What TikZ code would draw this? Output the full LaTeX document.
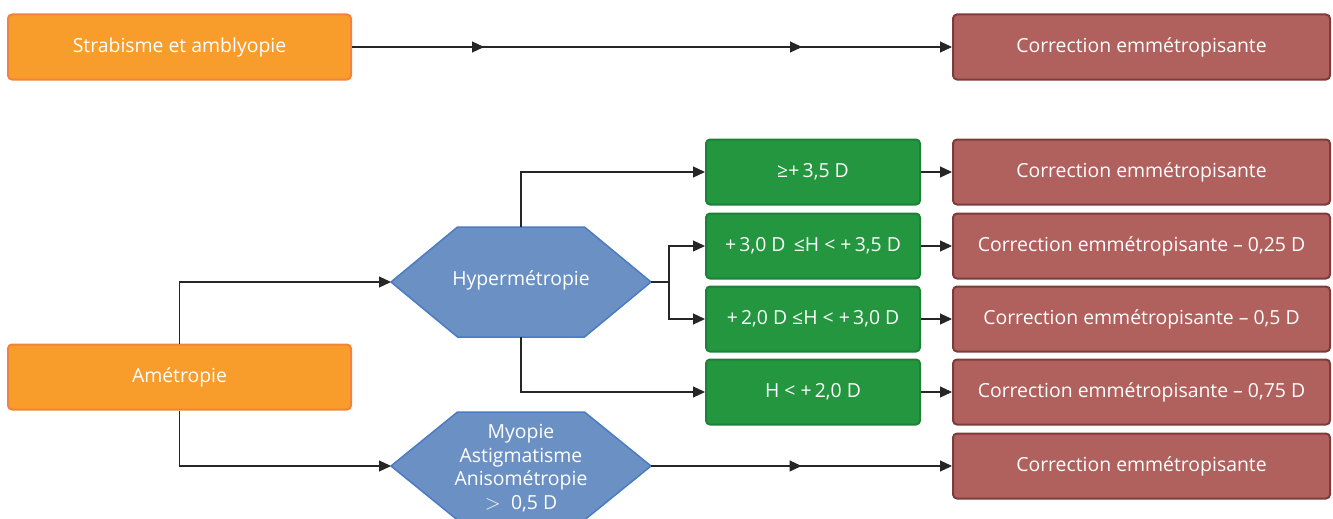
\documentclass[tikz,border=0pt]{standalone}
\usepackage{fontspec}
\setmainfont{Open Sans}
\usetikzlibrary{arrows.meta,decorations.markings}
\definecolor{orangebox}{HTML}{F89D2B}
\definecolor{orangeline}{HTML}{F3823A}
\definecolor{redbox}{HTML}{B0605D}
\definecolor{redline}{HTML}{7D3B3B}
\definecolor{greenbox}{HTML}{23963F}
\definecolor{greenline}{HTML}{1B8237}
\definecolor{bluebox}{HTML}{6A90C4}
\definecolor{blueline}{HTML}{4B7BC4}

\begin{document}
\begin{tikzpicture}[x=1pt,y=-1pt,
        font=\fontsize{19.4}{23.5}\selectfont,
        box/.style={line width=2pt,rounded corners=4pt,text=white,
            align=center,minimum height=65pt,inner sep=0pt},
        orange/.style={box,fill=orangebox,draw=orangeline,minimum width=343pt},
        corr/.style={box,fill=redbox,draw=redline,minimum width=377pt},
        crit/.style={box,fill=greenbox,draw=greenline,minimum width=214pt},
        hexa/.style={fill=bluebox,draw=blueline,line width=1.5pt,line join=round},
        hextext/.style={text=white,align=center,inner sep=0pt},
        flowtip/.tip={Triangle[length=12pt,width=11pt]},
        conn/.style={line width=1.2pt,draw=black!85,-flowtip}]
\useasboundingbox (0,0) rectangle (1333,519);

% left column
\node[orange] (strab) at (179.5,47) {Strabisme et amblyopie};
\node[orange] (ametro) at (179.5,377) {Amétropie};

% hexagons
\draw[hexa] (391,282) coordinate (hyperW) -- (457.5,227) -- (584.5,227)
    -- (651,282) coordinate (hyperE) -- (584.5,337) -- (457.5,337) -- cycle;
\coordinate (hyperN) at (521,227);
\coordinate (hyperS) at (521,337);
\node[hextext] (hyper) at (521,280) {Hypermétropie};

\draw[hexa] (391,466) coordinate (myoW) -- (457.5,412) -- (584.5,412)
    -- (651,466) coordinate (myoE) -- (584.5,520) -- (457.5,520) -- cycle;
\node[hextext] (myo) at (521,468) {Myopie\\Astigmatisme\\Anisométropie\\$>$\; 0,5 D};

% criteria
\node[crit] (g1) at (813,172) {≥+\,3,5 D};
\node[crit] (g2) at (813,246) {+\,3,0 D \,≤H < +\,3,5 D};
\node[crit] (g3) at (813,319) {+\,2,0 D ≤H < +\,3,0 D};
\node[crit] (g4) at (813,392) {H < +\,2,0 D};

% corrections
\node[corr] (r0) at (1141.5,47) {Correction emmétropisante};
\node[corr] (r1) at (1141.5,172) {Correction emmétropisante};
\node[corr] (r2) at (1141.5,246) {Correction emmétropisante – 0,25 D};
\node[corr] (r3) at (1141.5,319) {Correction emmétropisante – 0,5 D};
\node[corr] (r4) at (1141.5,392) {Correction emmétropisante – 0,75 D};
\node[corr] (r5) at (1141.5,466) {Correction emmétropisante};

% connectors
\draw[conn,postaction={decorate},decoration={markings,
    mark=at position 0.22 with {\arrow{flowtip}},
    mark=at position 0.75 with {\arrow{flowtip}}}] (strab.east) -- (r0.west);
\draw[conn] (ametro.north) |- (hyperW);
\draw[conn] (ametro.south) |- (myoW);
\draw[conn,postaction={decorate},decoration={markings,
    mark=at position 0.5 with {\arrow{flowtip}}}] (myoE) -- (r5.west);

\coordinate (fork) at (669,282);
\draw[line width=1.2pt,black!85] (hyperE) -- (fork);
\draw[conn] (fork) |- (g2.west);
\draw[conn] (fork) |- (g3.west);
\draw[conn] (hyperN) |- (g1.west);
\draw[conn] (hyperS) |- (g4.west);

\foreach \i in {1,...,4}
    \draw[conn] (g\i.east) -- (r\i.west);

\end{tikzpicture}
\end{document}
